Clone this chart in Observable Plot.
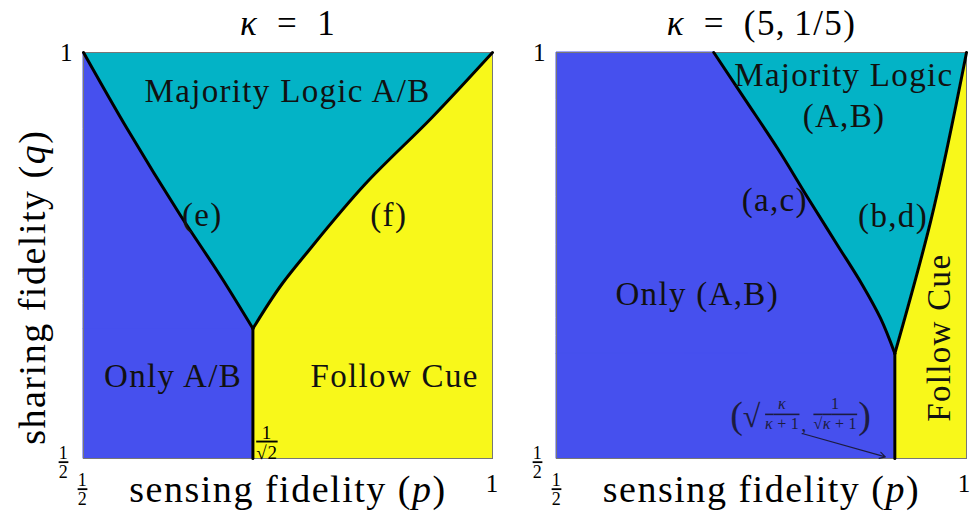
<!DOCTYPE html>
<html><head><meta charset="utf-8">
<script src="https://cdn.jsdelivr.net/npm/d3@7"></script>
<script src="https://cdn.jsdelivr.net/npm/@observablehq/plot@0.6"></script>
<style>
body{margin:0;background:#fff;}
#wrap{display:flex;width:972px;height:525px;overflow:hidden}
#wrap svg{display:block;flex:none;overflow:visible}
svg text{font-family:"Liberation Serif","DejaVu Serif","Noto Serif",serif;letter-spacing:0.04em}
.frac-den text{text-decoration:overline}
</style></head><body><div id="wrap"></div>
<script>
// ---------------- data ----------------
const domainP = [0.5, 1];
const domainQ = [0.5, 1];

// left panel : kappa = 1
const leftTitle = "κ\u2002=\u20021";
const leftCritP = 0.7071;          // 1/sqrt(2)
const leftMeetQ = 0.66;
const leftEp = [0.5, 0.5534, 0.6186, 0.6696, 0.7071];     // curve (e)
const leftEq = [1.0, 0.906, 0.7993, 0.7213, 0.66];
const leftFp = [0.7071, 0.7429, 0.7754, 0.8447, 0.9263, 1.0]; // curve (f)
const leftFq = [0.66, 0.7152, 0.7562, 0.8383, 0.9203, 1.0];
const leftLabels = [
  {p: 0.7494, q: 0.9526, text: "Majority Logic A/B"},
  {p: 0.6451, q: 0.7993, text: "(e)"},
  {p: 0.8732, q: 0.7993, text: "(f)"},
  {p: 0.6094, q: 0.601,  text: "Only A/B"},
  {p: 0.8804, q: 0.601,  text: "Follow Cue"}
];

// right panel : kappa = (5, 1/5)
const rightTitle = "κ\u2002=\u2002(5,\u20091/5)";
const rightCritP = 0.9126;        // sqrt(k/(k+1))
const rightMeetQ = 0.6293;
const rightACp = [0.6918, 0.7305, 0.7695, 0.8061, 0.8427, 0.8732, 0.8951, 0.9126]; // (a,c)
const rightACq = [1.0, 0.9414, 0.8821, 0.8218, 0.7627, 0.7134, 0.6728, 0.6293];
const rightBDp = [0.9126, 0.9561, 1.0];                                           // (b,d)
const rightBDq = [0.6293, 0.7914, 1.0];
const rightLabels = [
  {p: 0.8504, q: 0.972,  text: "Majority Logic"},
  {p: 0.8506, q: 0.9216, text: "(A,B)"},
  {p: 0.7661, q: 0.8181, text: "(a,c)"},
  {p: 0.9104, q: 0.7975, text: "(b,d)"},
  {p: 0.6716, q: 0.7023, text: "Only (A,B)"}
];
const rightRotLabels = [{p: 0.967, q: 0.6488, text: "Follow Cue"}];
const annotAnchor = [{p: 0.7985, q: 0.553}];
const annotArrow = [{p1: 0.7996, q1: 0.5308, p2: 0.901, q2: 0.502}];

// axis texts
const xLabel = "sensing fidelity (p)";
const yLabel = "sharing fidelity (q)";
const yLabelPos = [{q: 0.711, text: yLabel}];
const xTickOne = [{p: 1, label: "1"}];
const yTickOne = [{q: 1, label: "1"}];
const xFracs = [{p: 0.5, num: "1", den: "2"}];
const yFracs = [{q: 0.5, num: "1", den: "2"}];
const critFracLeft = [{p: leftCritP, num: "1", den: "√2"}];

// ---------------- styles ----------------
const BLUE = "#4650EE", CYAN = "#03B3C6", YELLOW = "#F8F81A", INK = "#111";
const FONT = "Liberation Serif, DejaVu Serif, Noto Serif, serif";
const T = {fontFamily: FONT, lineAnchor: "middle", textAnchor: "middle"};

function pts(ps, qs) { return ps.map((p, i) => ({p, q: qs[i]})).sort((a, b) => a.q - b.q); }

function panel(o) {
  const leftCurve = pts(o.lp, o.lq), rightCurve = pts(o.rp, o.rq);
  const vertical = [{p: o.critP, q: 0.5}, {p: o.critP, q: o.meetQ}];
  const marks = [
    Plot.frame({fill: CYAN}),
    Plot.areaX(vertical, {y: "q", x1: 0.5, x2: "p", fill: BLUE, stroke: BLUE, strokeWidth: 1}),
    Plot.areaX(leftCurve, {y: "q", x1: 0.5, x2: "p", curve: "monotone-y", fill: BLUE, stroke: BLUE, strokeWidth: 1}),
    Plot.areaX(vertical, {y: "q", x1: "p", x2: 1, fill: YELLOW, stroke: YELLOW, strokeWidth: 1}),
    Plot.areaX(rightCurve, {y: "q", x1: "p", x2: 1, curve: "monotone-y", fill: YELLOW, stroke: YELLOW, strokeWidth: 1}),
    Plot.frame({stroke: "#777", strokeWidth: 1}),
    Plot.line(vertical, {x: "p", y: "q", stroke: "#000", strokeWidth: 3}),
    Plot.line(leftCurve, {x: "p", y: "q", curve: "monotone-y", stroke: "#000", strokeWidth: 3, strokeLinejoin: "round"}),
    Plot.line(rightCurve, {x: "p", y: "q", curve: "monotone-y", stroke: "#000", strokeWidth: 3, strokeLinejoin: "round"}),
    Plot.text(o.labels, {...T, x: "p", y: "q", text: "text", fontSize: 33, fill: INK}),
    // title
    Plot.text([o.title], {...T, frameAnchor: "top", dy: -29, fontSize: 35, fill: "#000"}),
    // x label
    Plot.text([xLabel], {...T, frameAnchor: "bottom", dy: 31, fontSize: 38, fill: "#000"}),
    // tick "1"s
    Plot.text(xTickOne, {...T, x: "p", text: "label", frameAnchor: "bottom", dx: o.xOneDx, dy: 25, fontSize: 25, fill: "#000"}),
    Plot.text(yTickOne, {...T, y: "q", text: "label", frameAnchor: "left", textAnchor: "end", dx: -10, fontSize: 25, fill: "#000"}),
    // fractions 1/2
    Plot.text(yFracs, {...T, y: "q", text: "num", frameAnchor: "left", dx: o.yFracDx, dy: -5, fontSize: 18, fill: "#000"}),
    Plot.text(yFracs, {...T, y: "q", text: "den", frameAnchor: "left", dx: o.yFracDx, dy: 14, fontSize: 18, fill: "#000", className: "frac-den"}),
    Plot.text(xFracs, {...T, x: "p", text: "num", frameAnchor: "bottom", dx: o.xFracDx, dy: 22, fontSize: 18, fill: "#000"}),
    Plot.text(xFracs, {...T, x: "p", text: "den", frameAnchor: "bottom", dx: o.xFracDx, dy: 41, fontSize: 18, fill: "#000", className: "frac-den"})
  ];
  if (o.left) {
    marks.push(
      Plot.text(yLabelPos, {...T, y: "q", text: "text", frameAnchor: "left", dx: -51, rotate: -90, fontSize: 38, fill: "#000"}),
      Plot.text(critFracLeft, {...T, x: "p", text: "num", frameAnchor: "bottom", dx: 14, dy: -26, fontSize: 19, fill: "#000"}),
      Plot.text(critFracLeft, {...T, x: "p", text: "den", frameAnchor: "bottom", dx: 14, dy: -6, fontSize: 19, fill: "#000", className: "frac-den"})
    );
  } else {
    const A = {...T, x: "p", y: "q", fill: "#1c1c40"};
    marks.push(
      Plot.text(rightRotLabels, {...T, x: "p", y: "q", text: "text", rotate: -90, fontSize: 33, fill: INK}),
      Plot.text(annotAnchor, {...A, text: () => "(", dx: -64, dy: 0, fontSize: 38}),
      Plot.text(annotAnchor, {...A, text: () => "√", dx: -49, dy: 1, fontSize: 32}),
      Plot.text(annotAnchor, {...A, text: () => "κ", dx: -19, dy: -12, fontSize: 16}),
      Plot.text(annotAnchor, {...A, text: () => "κ\u2009+\u20091", dx: -19, dy: 8, fontSize: 16, className: "frac-den"}),
      Plot.text(annotAnchor, {...A, text: () => ",", dx: 3, dy: 9, fontSize: 20}),
      Plot.text(annotAnchor, {...A, text: () => "1", dx: 34, dy: -12, fontSize: 16}),
      Plot.text(annotAnchor, {...A, text: () => "√κ\u2009+\u20091", dx: 34, dy: 8, fontSize: 16, className: "frac-den"}),
      Plot.text(annotAnchor, {...A, text: () => ")", dx: 64, dy: 0, fontSize: 38}),
      Plot.arrow(annotArrow, {x1: "p1", y1: "q1", x2: "p2", y2: "q2", stroke: "#1c1c40", strokeWidth: 1.2, headLength: 8})
    );
  }
  const svg = Plot.plot({
    width: o.width, height: 525,
    marginLeft: o.marginLeft, marginRight: o.marginRight, marginTop: 52, marginBottom: 67,
    style: {fontFamily: FONT, background: "#fff"},
    x: {domain: domainP, axis: null},
    y: {domain: domainQ, axis: null},
    marks
  });
  italicize(svg);
  return svg;
}

function italicize(svg) {
  svg.querySelectorAll("text").forEach(t => {
    if (t.querySelector("tspan")) return;
    const s = t.textContent;
    const esc = s.replace(/&/g, "&amp;").replace(/</g, "&lt;");
    const html = esc.replace(/κ/g, '<tspan font-style="italic">κ</tspan>')
      .replace(/\(([pq])\)/g, '(<tspan font-style="italic">$1</tspan>)');
    if (html !== esc) t.innerHTML = html;
  });
}

const wrap = document.getElementById("wrap");
wrap.append(panel({
  left: true, width: 500, marginLeft: 83, marginRight: 8,
  title: leftTitle, critP: leftCritP, meetQ: leftMeetQ,
  lp: leftEp, lq: leftEq, rp: leftFp, rq: leftFq, labels: leftLabels,
  yFracDx: -20, xFracDx: -1, xOneDx: 0
}));
wrap.append(panel({
  left: false, width: 472, marginLeft: 56, marginRight: 6,
  title: rightTitle, critP: rightCritP, meetQ: rightMeetQ,
  lp: rightACp, lq: rightACq, rp: rightBDp, rq: rightBDq, labels: rightLabels,
  yFracDx: -19, xFracDx: 0, xOneDx: -2
}));
</script></body></html>
